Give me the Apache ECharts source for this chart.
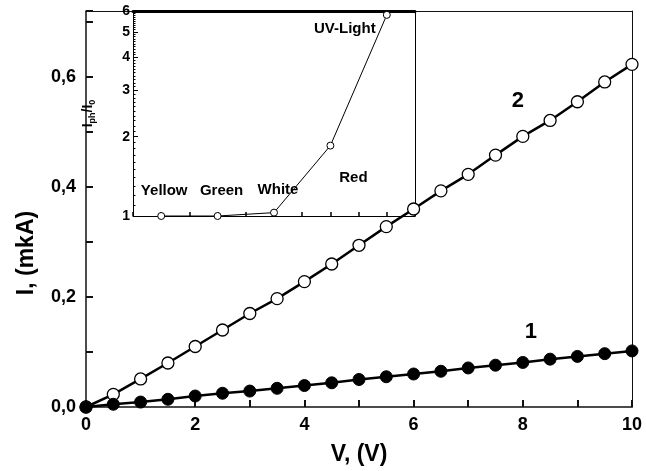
<!DOCTYPE html>
<html>
<head>
<meta charset="utf-8">
<script src="https://cdn.jsdelivr.net/npm/echarts@6/dist/echarts.min.js"></script>
<style>
  html, body { margin: 0; padding: 0; background: #fff; }
  #chart { width: 646px; height: 471px; }
</style>
</head>
<body>
<div id="chart"></div>
<script>
// main I-V curves
var voltage = [0, 0.5, 1, 1.5, 2, 2.5, 3, 3.5, 4, 4.5, 5, 5.5, 6, 6.5, 7, 7.5, 8, 8.5, 9, 9.5, 10]
var current1 = [0, 0.005, 0.009, 0.014, 0.020, 0.025, 0.029, 0.034, 0.039, 0.044, 0.050,
  0.055, 0.060, 0.065, 0.071, 0.076, 0.081, 0.087, 0.092, 0.097, 0.102]
var current2 = [0, 0.023, 0.051, 0.080, 0.110, 0.140, 0.170, 0.197, 0.228, 0.260, 0.294,
  0.328, 0.360, 0.393, 0.423, 0.458, 0.492, 0.521, 0.555, 0.591, 0.623]
var xLabelValues = [0, 2, 4, 6, 8, 10]
var yLabelValues = [0, 0.2, 0.4, 0.6]

// inset: photo response for different light
var insetX = [1, 2, 3, 4, 5]
var insetNames = ['Yellow', 'Green', 'White', 'Red', 'UV-Light']
var insetRatio = [1.0, 1.0, 1.03, 1.85, 5.8]
var insetLabelValues = [1, 2, 3, 4, 5, 6]
var insetMinorTicks = []
for (var t = 11; t < 60; t++) {
  if (t % 10 !== 0) insetMinorTicks.push(t / 10)
}

var FONT = '"Liberation Sans Narrow", "Liberation Sans", Arial, sans-serif'
var LABEL_FONT = '"Liberation Sans", Arial, sans-serif'
var AXIS_COLOR = '#111'

// label offsets for inset points (pixels)
var insetOffsets = [[3, -25], [4, -25], [4, -23], [23, 32], [-42, 14]]

function inList(list, v) {
  for (var i = 0; i < list.length; i++) {
    if (Math.abs(list[i] - v) < 1e-6) return true
  }
  return false
}

var chart = echarts.init(document.getElementById('chart'))

var data1 = voltage.map(function(v, i) { return [v, current1[i]] })
var data2 = voltage.map(function(v, i) { return [v, current2[i]] })
data1[16] = {
  value: data1[16],
  label: { show: true, formatter: '1', position: 'inside', offset: [8, -31],
    fontSize: 22, fontWeight: 'bold', color: '#000', fontFamily: FONT }
}
data2[16] = {
  value: data2[16],
  label: { show: true, formatter: '2', position: 'inside', offset: [-5, -35],
    fontSize: 22, fontWeight: 'bold', color: '#000', fontFamily: FONT }
}

var insetData = insetX.map(function(x, i) {
  return {
    value: [x, insetRatio[i]],
    label: {
      show: true,
      formatter: insetNames[i],
      position: 'inside',
      offset: insetOffsets[i],
      fontSize: 15,
      fontWeight: 'bold',
      color: '#000',
      fontFamily: LABEL_FONT
    }
  }
})

// plain line used for frame edges (no ticks, no labels)
function frameAxis(extra) {
  return Object.assign({
    type: 'value',
    axisLine: { show: true, onZero: false, lineStyle: { color: AXIS_COLOR, width: 1 } },
    axisTick: { show: false },
    axisLabel: { show: false },
    splitLine: { show: false }
  }, extra)
}

// log axis that only draws inward ticks
function logTickAxis(values, len) {
  return {
    gridIndex: 1,
    type: 'log',
    logBase: 10,
    position: 'left',
    min: 1,
    max: 6,
    axisLine: { show: false },
    axisTick: { show: true, inside: true, length: len, customValues: values,
      lineStyle: { color: '#000', width: 1 } },
    axisLabel: { show: false },
    splitLine: { show: false }
  }
}

chart.setOption({
  animation: false,
  backgroundColor: '#fff',
  grid: [
    { left: 86, right: 14, top: 11, bottom: 60 },
    { left: 133, right: 231, top: 11, bottom: 255 }
  ],
  xAxis: [
    {
      gridIndex: 0,
      type: 'value',
      position: 'bottom',
      min: 0,
      max: 10,
      interval: 1,
      name: 'V, (V)',
      nameLocation: 'middle',
      nameGap: 36,
      nameTextStyle: { fontSize: 23, fontWeight: 'bold', color: '#000', fontFamily: FONT },
      axisLine: { show: true, onZero: false, lineStyle: { color: AXIS_COLOR, width: 1.5 } },
      axisTick: { show: true, inside: true, length: 7, lineStyle: { color: AXIS_COLOR, width: 2 } },
      axisLabel: {
        margin: 9, fontSize: 18, fontWeight: 'bold', color: '#000', fontFamily: FONT,
        formatter: function(v) { return inList(xLabelValues, v) ? String(v) : '' }
      },
      splitLine: { show: false }
    },
    frameAxis({ gridIndex: 0, position: 'top', min: 0, max: 10 }),
    {
      gridIndex: 1,
      type: 'value',
      position: 'bottom',
      min: 0.5,
      max: 5.5,
      interval: 0.5,
      axisLine: { show: true, onZero: false, lineStyle: { color: '#000', width: 1 } },
      axisTick: { show: true, inside: true, length: 4, lineStyle: { color: '#000', width: 1.5 } },
      axisLabel: { show: false },
      splitLine: { show: false }
    },
    frameAxis({ gridIndex: 1, position: 'top', min: 0.5, max: 5.5,
      axisLine: { show: true, onZero: false, lineStyle: { color: '#000', width: 3 } } })
  ],
  yAxis: [
    {
      gridIndex: 0,
      type: 'value',
      position: 'left',
      min: 0,
      max: 0.72,
      interval: 0.1,
      name: 'I, (mkA)',
      nameLocation: 'middle',
      nameGap: 48,
      nameTextStyle: { fontSize: 23, fontWeight: 'bold', color: '#000', fontFamily: FONT,
        padding: [0, 88, 0, 0] },
      axisLine: { show: true, onZero: false, lineStyle: { color: AXIS_COLOR, width: 1.5 } },
      axisTick: { show: true, inside: true, length: 7, lineStyle: { color: AXIS_COLOR, width: 2 } },
      axisLabel: {
        margin: 10,
        fontSize: 18,
        fontWeight: 'bold',
        color: '#000',
        fontFamily: FONT,
        formatter: function(v) {
          return inList(yLabelValues, v) ? v.toFixed(1).replace('.', ',') : ''
        }
      },
      splitLine: { show: false }
    },
    frameAxis({ gridIndex: 0, position: 'right', min: 0, max: 0.72 }),
    {
      gridIndex: 1,
      type: 'log',
      logBase: 10,
      position: 'left',
      min: 1,
      max: 6,
      name: '{m|I}{s|ph}{m|/I}{s|0}',
      nameLocation: 'middle',
      nameGap: 36,
      nameTextStyle: {
        color: '#000',
        rich: {
          m: { fontSize: 14, fontWeight: 'bold', fontFamily: LABEL_FONT, color: '#000' },
          s: { fontSize: 9, fontWeight: 'bold', fontFamily: LABEL_FONT, color: '#000', padding: [8, 0, 0, 0] }
        }
      },
      axisLine: { show: true, onZero: false, lineStyle: { color: '#000', width: 1 } },
      axisTick: { show: false },
      axisLabel: { customValues: insetLabelValues, margin: 3, fontSize: 14, fontWeight: 'bold',
        color: '#000', fontFamily: FONT },
      splitLine: { show: false },
      minorSplitLine: { show: false }
    },
    logTickAxis(insetMinorTicks, 2.5),
    logTickAxis(insetLabelValues, 5),
    frameAxis({ gridIndex: 1, position: 'right', min: 0, max: 1,
      axisLine: { show: true, onZero: false, lineStyle: { color: '#000', width: 1 } } })
  ],
  series: [
    {
      name: '2',
      type: 'line',
      xAxisIndex: 0,
      yAxisIndex: 0,
      data: data2,
      symbol: 'circle',
      symbolSize: 12,
      lineStyle: { color: '#000', width: 2.5 },
      itemStyle: { color: '#fff', borderColor: '#000', borderWidth: 1.3 },
      z: 3
    },
    {
      name: '1',
      type: 'line',
      xAxisIndex: 0,
      yAxisIndex: 0,
      data: data1,
      symbol: 'circle',
      symbolSize: 12,
      lineStyle: { color: '#000', width: 2.5 },
      itemStyle: { color: '#000', borderColor: '#000', borderWidth: 1 },
      z: 3
    },
    {
      name: 'inset',
      type: 'line',
      xAxisIndex: 2,
      yAxisIndex: 2,
      data: insetData,
      symbol: 'circle',
      symbolSize: 7,
      lineStyle: { color: '#000', width: 1 },
      itemStyle: { color: '#fff', borderColor: '#000', borderWidth: 1 },
      z: 4
    },
    // empty series that carry the tick-only log axes
    { name: 'inset-minor', type: 'line', xAxisIndex: 2, yAxisIndex: 3, data: [], silent: true },
    { name: 'inset-major', type: 'line', xAxisIndex: 2, yAxisIndex: 4, data: [], silent: true }
  ]
})
</script>
</body>
</html>
